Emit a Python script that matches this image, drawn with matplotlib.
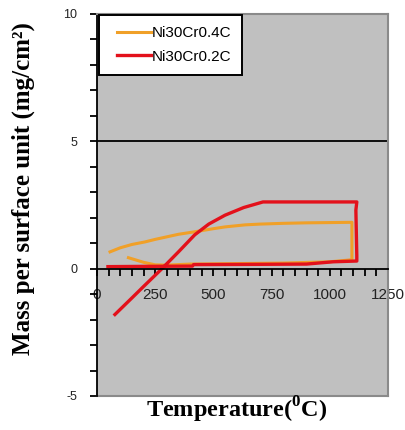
import numpy as np
import matplotlib
matplotlib.use('Agg')
import matplotlib.pyplot as plt
from matplotlib.ticker import MultipleLocator
from matplotlib.legend_handler import HandlerLine2D

plt.rcParams['font.family'] = ['Liberation Sans', 'DejaVu Sans']
plt.rcParams['axes.unicode_minus'] = False
plt.rcParams['mathtext.fontset'] = 'custom'
plt.rcParams['mathtext.rm'] = 'Liberation Serif:bold'
plt.rcParams['mathtext.bf'] = 'Liberation Serif:bold'

# Ni30Cr0.4C: heating then cooling (temperature in C, mass gain in mg/cm2)
t_04 = [56, 100, 150, 206, 250, 300, 350, 421, 500, 550, 636, 700, 800, 900, 1000, 1095,
        1095, 1000, 800, 600, 400, 300, 250, 200, 135]
m_04 = [0.66, 0.82, 0.95, 1.05, 1.15, 1.25, 1.35, 1.45, 1.57, 1.64, 1.72, 1.75, 1.78, 1.8, 1.81, 1.82,
        0.35, 0.27, 0.22, 0.2, 0.18, 0.14, 0.15, 0.25, 0.43]

# Ni30Cr0.2C: heating then cooling
t_02 = [77, 150, 200, 279, 350, 420, 480, 550, 630, 713, 800, 900, 1000, 1116,
        1112, 1116, 1116, 1014, 900, 700, 415, 410, 200, 47]
m_02 = [-1.8, -1.15, -0.7, 0.0, 0.66, 1.33, 1.75, 2.1, 2.4, 2.62, 2.62, 2.62, 2.62, 2.62,
        2.3, 0.5, 0.3, 0.27, 0.18, 0.17, 0.16, 0.1, 0.09, 0.08]

fig = plt.figure(figsize=(4.06, 4.30), dpi=100)
ax = fig.add_axes([97 / 406, 34 / 430, 291 / 406, 382 / 430])
ax.set_facecolor('#c0c0c0')

ax.plot(t_04, m_04, color='#f0a028', lw=2.2, label='Ni30Cr0.4C', solid_joinstyle='round')
ax.plot(t_02, m_02, color='#e3111b', lw=2.4, label='Ni30Cr0.2C', solid_joinstyle='round')

ax.set_xlim(0, 1250)
ax.set_ylim(-5, 10)

# x axis crosses at zero
ax.spines['bottom'].set_position(('data', 0))
ax.spines['bottom'].set_color('black')
ax.spines['bottom'].set_linewidth(1.3)
ax.spines['left'].set_color('black')
ax.spines['left'].set_linewidth(1.3)
for s in ['top', 'right']:
    ax.spines[s].set_color('#8a8a8a')
    ax.spines[s].set_linewidth(1.5)
ax.plot([0, 1], [0, 0], transform=ax.transAxes, color='#8a8a8a', lw=1.5, clip_on=False)
ax.axhline(5, color='black', lw=1.3)

ax.xaxis.set_major_locator(MultipleLocator(250))
ax.xaxis.set_minor_locator(MultipleLocator(50))
ax.yaxis.set_major_locator(MultipleLocator(5))
ax.yaxis.set_minor_locator(MultipleLocator(1))
ax.tick_params(axis='x', which='both', direction='out', length=5, width=1.3, color='black')
ax.tick_params(axis='x', which='major', pad=9, labelsize=11, labelcolor='#222222')
ax.tick_params(axis='y', which='both', direction='out', length=5, width=1.3, color='black')
ax.tick_params(axis='y', which='major', pad=9, labelsize=9, labelcolor='#222222')

# legend lines start a bit in from the frame
leg = ax.legend(loc='upper left', bbox_to_anchor=(0.007, 0.997), borderaxespad=0,
                fontsize=11, handlelength=2.7, handletextpad=0.0, borderpad=0.72,
                labelspacing=0.62, fancybox=False, framealpha=1, edgecolor='black',
                handler_map={plt.Line2D: HandlerLine2D(xpad=0.45)})
leg.get_frame().set_linewidth(1.4)

fig.text(23 / 406, 1 - 189 / 430, 'Mass per surface unit (mg/cm\u00b2)', rotation=90,
         ha='center', va='center', fontsize=18, fontweight='bold', family='Liberation Serif')
fig.text(237 / 406, 1 - 410 / 430, r'Temperature($^{\mathbf{0}}$C)', ha='center', va='center',
         fontsize=17.5, fontweight='bold', family='Liberation Serif')

fig.savefig('out.png', dpi=100)
